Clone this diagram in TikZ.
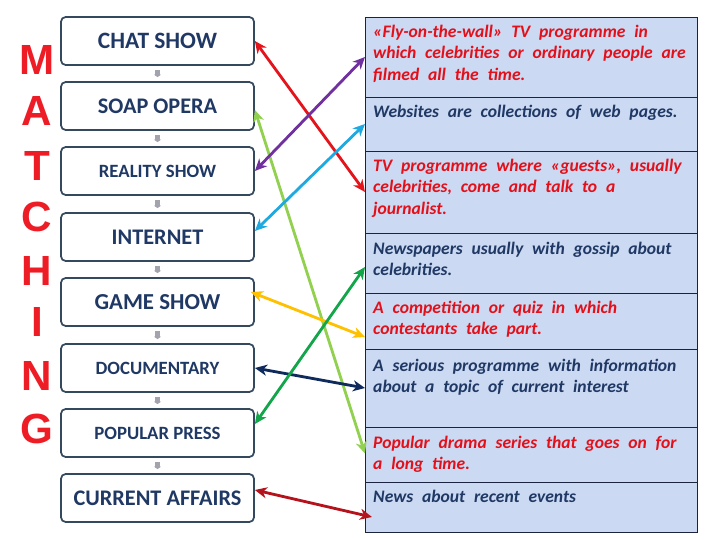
\documentclass[tikz,border=0pt]{standalone}
\usepackage{fontspec}
\setmainfont{Carlito}
\newfontfamily\letterfont{Liberation Sans}
\usetikzlibrary{arrows.meta,positioning,calc}
\definecolor{MTInk}{HTML}{1F3864}
\definecolor{MTFrame}{HTML}{34495E}
\definecolor{MTRedText}{HTML}{E3101A}
\definecolor{MTNavyText}{HTML}{1F3864}
\definecolor{MTPaper}{HTML}{CBD9F2}
\definecolor{MTRule}{HTML}{1C2340}
\definecolor{MTGap}{HTML}{A3A3AD}
\definecolor{MTLetter}{HTML}{EE1C25}
\definecolor{MTRed}{HTML}{E3141B}
\definecolor{MTPurple}{HTML}{7030A0}
\definecolor{MTSky}{HTML}{1EAAE0}
\definecolor{MTLime}{HTML}{92D050}
\definecolor{MTGreen}{HTML}{12A54A}
\definecolor{MTAmber}{HTML}{FFC000}
\definecolor{MTNavy}{HTML}{0F2A5C}
\definecolor{MTMaroon}{HTML}{B5121B}
\newcommand{\widewords}{\spaceskip=0.5em plus 0.2em minus 0.1em\relax}
\tikzset{
  showbox/.style={draw=MTFrame,line width=1.5pt,fill=white,rounded corners=1.4mm,
                  minimum width=5.79cm,minimum height=1.44cm,text=MTInk,font=\bfseries},
  gapmark/.style={MTGap,line width=5pt,-{Triangle[length=2pt,width=6pt]},
                  shorten <=3.5pt,shorten >=3.5pt},
  rowbox/.style={draw=MTRule,line width=0.8pt,fill=MTPaper,minimum width=9.96cm,
                 inner sep=0pt,outer sep=0pt},
  rowtext/.style={anchor=north west,inner sep=0pt,align=left,
                  font=\fontsize{15}{18.7}\selectfont\bfseries\itshape\widewords},
  redtext/.style={rowtext,text=MTRedText},
  navytext/.style={rowtext,text=MTNavyText},
  match/.style={text=MTLetter,font=\letterfont\fontsize{36}{40}\selectfont\bfseries},
  pair/.style={{Stealth[length=3.6mm,width=3.3mm,inset=1.1mm]}-{Stealth[length=3.6mm,width=3.3mm,inset=1.1mm]},
               line width=2.4pt},
}
\begin{document}
\begin{tikzpicture}[x=0.03cm,y=-0.03cm]
  \useasboundingbox (0,0) rectangle (720,540);

  % big letters
  \foreach \ch/\y in {M/60,A/111,T/166,C/217,H/271,I/322,N/376,G/429}{
    \node[match] (l\ch) at (37,\y) {\ch};
  }

  % programme types
  \node[showbox,font=\fontsize{20}{24}\selectfont\bfseries] (b1) at (157.5,41) {CHAT SHOW};
  \node[showbox,font=\fontsize{19}{23}\selectfont\bfseries] (b2) at (157.5,106) {SOAP OPERA};
  \node[showbox,font=\fontsize{16}{20}\selectfont\bfseries] (b3) at (157.5,171) {REALITY SHOW};
  \node[showbox,font=\fontsize{19}{23}\selectfont\bfseries] (b4) at (157.5,237) {INTERNET};
  \node[showbox,font=\fontsize{19.5}{23}\selectfont\bfseries] (b5) at (157.5,302) {GAME SHOW};
  \node[showbox,font=\fontsize{16}{20}\selectfont\bfseries] (b6) at (157.5,368) {DOCUMENTARY};
  \node[showbox,font=\fontsize{16}{20}\selectfont\bfseries] (b7) at (157.5,433) {POPULAR PRESS};
  \node[showbox,font=\fontsize{19}{23}\selectfont\bfseries] (b8) at (157.5,498) {CURRENT AFFAIRS};
  \foreach \a/\b in {b1/b2,b2/b3,b3/b4,b4/b5,b5/b6,b6/b7,b7/b8}{
    \draw[gapmark] (\a.south) -- (\b.north);
  }

  % definitions table
  \node[rowbox,minimum height=2.4cm,anchor=north west] (r1) at (365,17) {};
  \node[rowbox,minimum height=1.62cm,below=0pt of r1] (r2) {};
  \node[rowbox,minimum height=2.46cm,below=0pt of r2] (r3) {};
  \node[rowbox,minimum height=1.8cm,below=0pt of r3] (r4) {};
  \node[rowbox,minimum height=1.68cm,below=0pt of r4] (r5) {};
  \node[rowbox,minimum height=2.34cm,below=0pt of r5] (r6) {};
  \node[rowbox,minimum height=1.65cm,below=0pt of r6] (r7) {};
  \node[rowbox,minimum height=1.5cm,below=0pt of r7] (r8) {};

  \node[redtext] (t1) at ($(r1.north west)+(8,7.5)$)
    {«Fly-on-the-wall» TV programme in\\which celebrities or ordinary people are\\filmed all the time.};
  \node[navytext] (t2) at ($(r2.north west)+(8,7.5)$) {Websites are collections of web pages.};
  \node[redtext] (t3) at ($(r3.north west)+(8,7.5)$)
    {TV programme where «guests», usually\\celebrities, come and talk to a\\journalist.};
  \node[navytext] (t4) at ($(r4.north west)+(8,8.5)$) {Newspapers usually with gossip about\\celebrities.};
  \node[redtext] (t5) at ($(r5.north west)+(8,7.5)$) {A competition or quiz in which\\contestants take part.};
  \node[navytext] (t6) at ($(r6.north west)+(8,9.5)$)
    {A serious programme with information\\about a topic of current interest};
  \node[redtext] (t7) at ($(r7.north west)+(8,8.5)$) {Popular drama series that goes on for\\a long time.};
  \node[navytext] (t8) at ($(r8.north west)+(8,7.5)$) {News about recent events};

  % matching arrows
  \draw[pair,MTRed] (b1.east) -- (r3.west);
  \draw[pair,MTLime] ($(b2.east)+(0,4)$) -- ($(r7.west)+(0,-1)$);
  \draw[pair,MTPurple] (b3.east) -- (r1.west);
  \draw[pair,MTSky] ($(b4.east)+(0,-6)$) -- (r2.west);
  \draw[pair,MTAmber] ($(b5.east)+(-4,-10)$) -- ($(r5.west)+(0,16)$);
  \draw[pair,MTNavy] (b6.east) -- (r6.west);
  \draw[pair,MTGreen] ($(b7.east)+(0,-9)$) -- ($(r4.west)+(0,4)$);
  \draw[pair,MTMaroon] ($(b8.east)+(0,-8)$) -- ($(r8.west)+(7,10)$);
\end{tikzpicture}
\end{document}
